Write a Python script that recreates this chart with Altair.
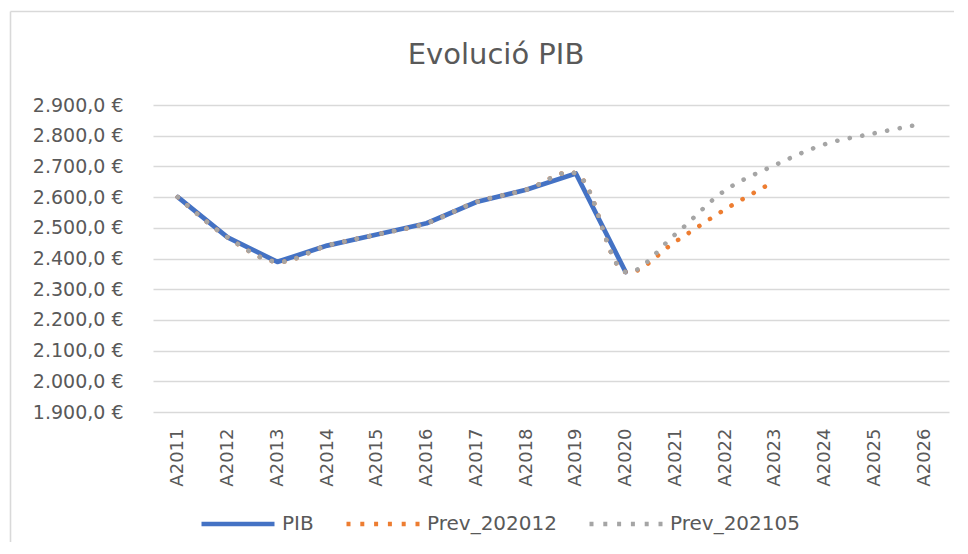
import altair as alt
import pandas as pd

# ---- data ----
anys = ["A2011", "A2012", "A2013", "A2014", "A2015", "A2016", "A2017", "A2018",
        "A2019", "A2020", "A2021", "A2022", "A2023", "A2024", "A2025", "A2026"]
pib = [2600, 2469, 2389, 2442, 2478, 2515, 2584, 2624, 2677, 2356]
prev_202012 = [2600, 2469, 2389, 2442, 2478, 2515, 2584, 2624, 2677, 2356,
               2455, 2560, 2652]
prev_202105 = [2600, 2469, 2389, 2442, 2478, 2515, 2584, 2624, 2677, 2356,
               2479, 2622, 2704, 2772, 2808, 2840]
series = ["PIB", "Prev_202012", "Prev_202105"]
colors = ["#4472C4", "#ED7D31", "#A5A5A5"]
y_ticks = [1900, 2000, 2100, 2200, 2300, 2400, 2500, 2600, 2700, 2800, 2900]

rows = []
for name, vals in zip(series, [pib, prev_202012, prev_202105]):
    for a, v in zip(anys, vals):
        rows.append({"Any": a, "Serie": name, "Valor": v})
df = pd.DataFrame(rows)

FONT = "DejaVu Sans"
TXT = "#595959"
GRID = "#d9d9d9"

x_enc = alt.X(
    "Any:O",
    scale=alt.Scale(type="point", domain=anys, padding=0.5),
    axis=alt.Axis(title=None, labelAngle=-90, labelFont=FONT, labelFontSize=18,
                  labelColor=TXT, labelPadding=16, ticks=False, tickSize=0,
                  domain=False, grid=False),
)
y_enc = alt.Y(
    "Valor:Q",
    scale=alt.Scale(domain=[1900, 2900], nice=False, zero=False),
    axis=alt.Axis(title=None, values=y_ticks,
                  labelExpr="replace(replace(replace(format(datum.value, ',.1f'), ',', '#'), '.', ','), '#', '.') + ' €'",
                  labelFont=FONT, labelFontSize=19, labelColor=TXT, labelPadding=30,
                  ticks=False, tickSize=0, domain=False, grid=True,
                  gridColor=GRID, gridWidth=1.3),
)

leg = alt.Legend(title=None, orient="none", legendX=46, legendY=380,
                 direction="horizontal", symbolType="stroke", symbolSize=5329,
                 symbolStrokeWidth=4.5, labelFont=FONT, labelFontSize=20,
                 labelColor=TXT, labelOffset=5, columnPadding=23)

base = alt.Chart(df)

legend_layer = base.transform_filter("false").mark_line(strokeWidth=4.5).encode(
    x=x_enc, y=y_enc,
    color=alt.Color("Serie:N", scale=alt.Scale(domain=series, range=colors), legend=leg),
    strokeDash=alt.StrokeDash("Serie:N",
                              scale=alt.Scale(domain=series,
                                              range=[[1, 0], [4, 9.8], [4, 9.8]]),
                              legend=leg),
)

pib_line = base.transform_filter(alt.datum.Serie == "PIB").mark_line(
    color=colors[0], strokeWidth=4.75, strokeCap="round", strokeJoin="round"
).encode(x=x_enc, y=y_enc)

prev1 = base.transform_filter(alt.datum.Serie == "Prev_202012").mark_line(
    color=colors[1], strokeWidth=4.6, strokeCap="round", strokeDash=[0.1, 12.6],
    interpolate="catmull-rom"
).encode(x=x_enc, y=y_enc)

prev2 = base.transform_filter(alt.datum.Serie == "Prev_202105").mark_line(
    color=colors[2], strokeWidth=4.6, strokeCap="round", strokeDash=[0.1, 12.6],
    interpolate="catmull-rom"
).encode(x=x_enc, y=y_enc)

frame_df = pd.DataFrame({"k": [0]})
frame_left = alt.Chart(frame_df).mark_rule(color=GRID, strokeWidth=1.6).encode(
    x=alt.value(-142.5), y=alt.value(-93.5), y2=alt.value(470))
frame_top = alt.Chart(frame_df).mark_rule(color=GRID, strokeWidth=1.6).encode(
    x=alt.value(-142.5), x2=alt.value(830), y=alt.value(-93.5))

chart = alt.layer(legend_layer, pib_line, prev1, prev2, frame_left, frame_top).properties(
    width=796, height=307,
    title=alt.TitleParams("Evolució PIB", font=FONT, fontSize=29, fontWeight="normal",
                          color=TXT, anchor="middle", dx=-55, dy=30, offset=-52.5,
                          baseline="alphabetic"),
    autosize=alt.AutoSizeParams(type="none"),
    padding={"left": 145, "top": 97, "right": 5, "bottom": 130},
    background="white",
).configure_view(stroke=None)

chart.save("out.html", embed_options={"renderer": "svg", "actions": False})
